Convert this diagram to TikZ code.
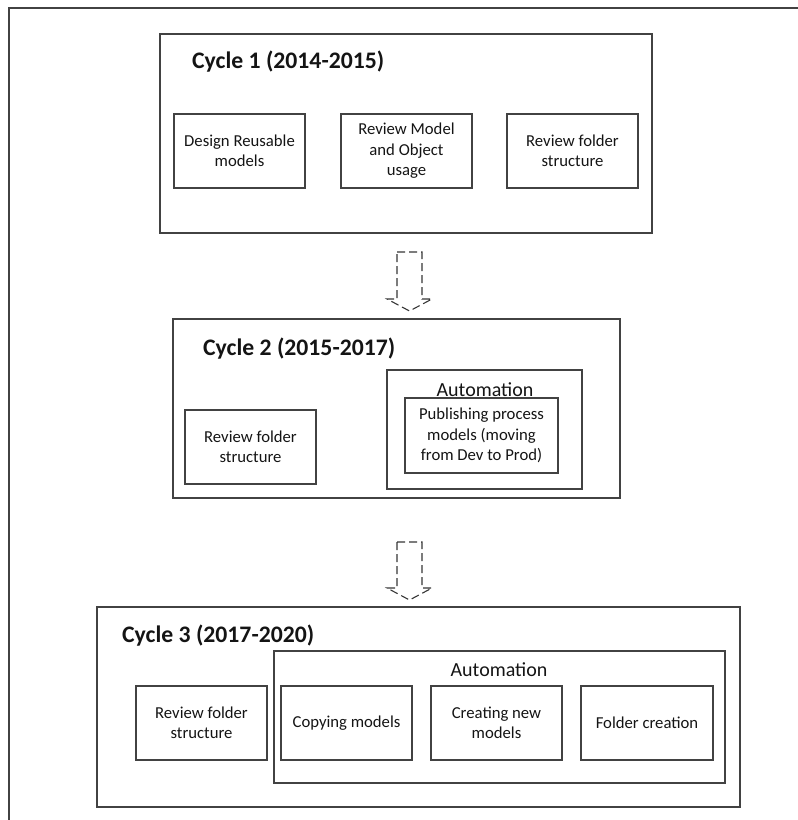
\documentclass[tikz,border=0pt]{standalone}
\usepackage{fontspec}
\setmainfont{Carlito}
\usetikzlibrary{calc}
\definecolor{edge}{RGB}{66,66,66}
\definecolor{ink}{RGB}{20,20,20}
\begin{document}
\begin{tikzpicture}[x=1pt,y=-1pt,
  frame/.style={draw=edge, line width=1.3pt},
  cyclebox/.style={draw=edge, line width=1.2pt, rectangle, inner sep=0pt},
  taskbox/.style={draw=edge, line width=1.1pt, rectangle, inner sep=0pt,
    minimum height=74pt, minimum width=131pt, align=center, text=ink,
    font=\fontsize{16.7}{20.5}\selectfont},
  heading/.style={font=\bfseries\fontsize{23.7}{26}\selectfont, text=ink,
    anchor=base west, inner sep=0pt},
  autolabel/.style={font=\fontsize{20}{24}\selectfont, text=ink, inner sep=0pt},
  flowarrow/.style={draw=edge!80!black, line width=1.1pt, dash pattern=on 8pt off 4pt},
]
\useasboundingbox (0,0) rectangle (798,820);

% page frame (left and top edges)
\draw[frame] (9,820) -- (9,8) -- (798,8);

% ---- Cycle 1 ----
\node[cyclebox, minimum width=492pt, minimum height=199pt] (c1) at (406,133.5) {};
\node[heading] (c1title) at (192,68) {Cycle 1 (2014-2015)};
\node[taskbox] (c1a) at (239.5,151) {Design Reusable\\models};
\node[taskbox] (c1b) at (406.5,151) {Review Model\\and Object\\usage};
\node[taskbox] (c1c) at (572.5,151) {Review folder\\structure};

% ---- Cycle 2 ----
\node[cyclebox, minimum width=447pt, minimum height=179pt] (c2) at (396.5,408.5) {};
\node[heading] (c2title) at (203,355) {Cycle 2 (2015-2017)};
\node[taskbox] (c2a) at (250.5,447) {Review folder\\structure};
\node[cyclebox, minimum width=195pt, minimum height=119pt] (c2auto) at (484.5,429.5) {};
\node[autolabel] (c2autolbl) at (485,390) {Automation};
\node[taskbox, minimum width=153pt, minimum height=75pt] (c2b) at (481.5,435.5)
  {Publishing process\\models (moving\\from Dev to Prod)};

% ---- Cycle 3 ----
\node[cyclebox, minimum width=643pt, minimum height=200pt] (c3) at (418.5,707) {};
\node[heading] (c3title) at (122,642) {Cycle 3 (2017-2020)};
\node[cyclebox, minimum width=451pt, minimum height=132pt] (c3auto) at (499.5,717) {};
\node[autolabel] (c3autolbl) at (499,670) {Automation};
\node[taskbox] (c3a) at (201.5,723) {Review folder\\structure};
\node[taskbox] (c3b) at (346.5,723) {Copying models};
\node[taskbox] (c3c) at (496.5,723) {Creating new\\models};
\node[taskbox, minimum width=132pt] (c3d) at (647,723) {Folder creation};

% ---- dashed block arrows between cycles ----
\coordinate (a1) at (409.5,252);
\coordinate (a1tip) at (409.5,311);
\draw[flowarrow] ($(a1)+(-12.5,0)$) -- ($(a1)+(12.5,0)$) -- ($(a1)+(12.5,47)$)
  -- ($(a1)+(22.5,47)$) -- (a1tip) -- ($(a1)+(-22.5,47)$)
  -- ($(a1)+(-12.5,47)$) -- cycle;

\coordinate (a2) at (409.5,542);
\coordinate (a2tip) at (409.5,600);
\draw[flowarrow] ($(a2)+(-12.5,0)$) -- ($(a2)+(12.5,0)$) -- ($(a2)+(12.5,46)$)
  -- ($(a2)+(22.5,46)$) -- (a2tip) -- ($(a2)+(-22.5,46)$)
  -- ($(a2)+(-12.5,46)$) -- cycle;
\end{tikzpicture}
\end{document}
